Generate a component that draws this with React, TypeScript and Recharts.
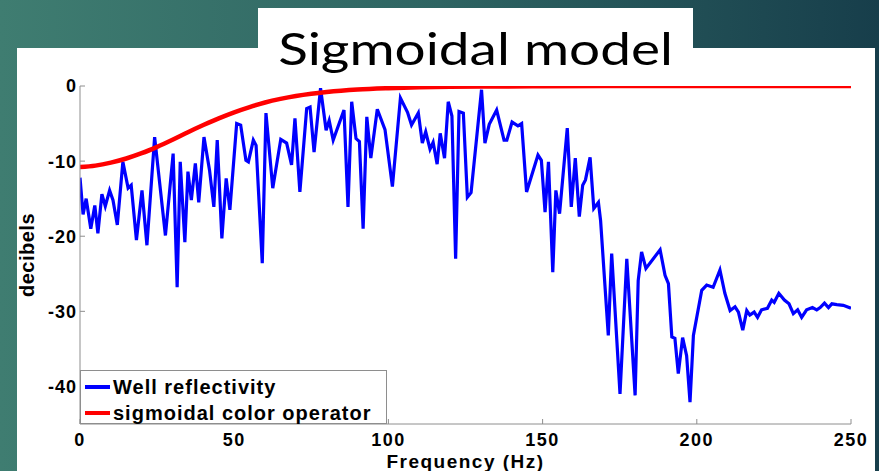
import React from "react";
import { LineChart, Line, XAxis, YAxis, Legend } from "recharts";

// well reflectivity spectrum (Hz, dB)
const wellFreq = [
  0, 1, 2, 3.5, 4.8, 5.8, 7.1, 8.2, 9.6, 10.7, 12.1, 13.9, 15.6, 16.6, 18.3, 20.1,
  21.7, 24.2, 27.7, 30.2, 31.5, 32.5, 34, 35, 36.1, 37.4, 38.5, 40.2, 42, 43.4, 44.5,
  46, 47.4, 48.6, 50.8, 52.1, 53.8, 54.6, 56.2, 57.1, 59.1, 60.3, 62.5, 65.1, 67,
  68.6, 69.7, 71.3, 73.5, 74.6, 75.9, 78, 79.8, 80.8, 82.1, 85.6, 86.9, 88.1, 89.5,
  90.6, 91.8, 93, 94.3, 96.4, 98.9, 101.3, 103.9, 106.2, 107.5, 109.7, 111, 112.1,
  113.5, 114.5, 115.8, 116.8, 118.2, 119.4, 120.6, 121.8, 122.9, 124.3, 125.6, 126.8,
  130.2, 131.3, 132.7, 135.1, 137.5, 138.4, 140.1, 142, 143.2, 144.8, 148.5, 149.6,
  150.8, 151.9, 153.3, 154.3, 155.5, 158, 159.3, 160.6, 161.9, 163, 163.9, 165.4,
  166.6, 168.1, 168.8, 171.3, 172.4, 175.1, 177.3, 180, 181, 182.1, 183.5, 188.1,
  189.7, 190.8, 191.9, 192.9, 194, 195.4, 196.7, 197.8, 198.9, 201.6, 203.2, 205.3,
  207.5, 209.1, 210.8, 212.4, 213.5, 214.9, 216.2, 217.2, 218.6, 219.7, 221, 222.9,
  224.3, 225.1, 226.6, 228.4, 229.9, 231.3, 232.7, 234, 235.6, 237.5, 238.9, 240,
  241.4, 242.7, 243.8, 245.4, 247.5, 250,
];
const wellDb = [
  -12.2, -17.1, -15, -19, -15.9, -19.6, -14.4, -16, -13.9, -15.2, -18.5, -10.1, -13.6,
  -13.2, -20.5, -13.9, -21.2, -6.8, -19.9, -9, -26.8, -10.1, -20.8, -11.4, -15.2, -10.3,
  -15.5, -6.8, -11.2, -16.1, -7.2, -20.3, -12.3, -16.5, -5, -5.2, -9.9, -10.1, -7.2,
  -7.9, -23.6, -3.6, -13.6, -7.1, -7.6, -10.5, -4.3, -14.1, -3, -2.8, -8.8, -0.3, -5.9,
  -4.6, -7.2, -3.2, -16.1, -2.1, -7, -7.4, -19, -4.1, -9.6, -3.1, -5.8, -13.4, -1.6,
  -3.5, -5.2, -3.6, -7.6, -6.1, -8.4, -7.5, -10.4, -6.3, -9.6, -2.1, -4, -23, -3.4,
  -3.6, -14.8, -14.2, -0.5, -7.6, -5.1, -3.2, -7.2, -7.2, -4.8, -5.3, -5, -14.1, -9.2,
  -9.9, -16.8, -10.1, -24.8, -13.9, -17, -5.6, -16.1, -9.6, -17.4, -13.2, -12.5, -9.5,
  -16.3, -15.5, -17.9, -33.2, -22.3, -41, -23, -41.2, -25.9, -22.1, -24.3, -21.8,
  -25.2, -26.3, -33.4, -33.6, -38.3, -33.5, -35.9, -42.1, -33.2, -27.2, -26.5, -26.8,
  -24.5, -27.6, -29.9, -29.4, -30.1, -32.5, -29.9, -30.5, -30.1, -30.8, -29.8, -29.6,
  -28.5, -28.8, -27.6, -28.5, -29, -30.3, -29.8, -30.8, -29.8, -29.5, -29.8, -29.5,
  -28.9, -29.5, -29, -29.1, -29.2, -29.6,
];

// sigmoidal color operator (Hz, dB)
const sigFreq = [0, 5, 10, 15, 20, 25, 30, 35, 40, 45, 50, 55, 60, 65, 70, 75, 80, 90, 100, 110, 120, 130, 150, 175, 200, 250];
const sigDb = [-10.8, -10.6, -10.2, -9.65, -8.95, -8.1, -7.15, -6.15, -5.2, -4.3, -3.5, -2.8, -2.2, -1.72, -1.33, -1.03, -0.8, -0.48, -0.3, -0.18, -0.11, -0.07, -0.03, -0.01, 0, 0];

const xTicks = [0, 50, 100, 150, 200, 250];
const yTicks = [0, -10, -20, -30, -40];

const wellData = wellFreq.map((f, i) => ({ f, db: wellDb[i] }));
const sigData = sigFreq.map((f, i) => ({ f, db: sigDb[i] }));

const AXIS = "#8e8e8e";
const FONT = '"Liberation Sans", Arial, sans-serif';

function XTick({ x, y, payload }: any) {
  return (
    <text x={x} y={y + 27} textAnchor="middle" fill="#000" fontFamily={FONT} fontSize={18} fontWeight={700} letterSpacing={1.5}>
      {payload.value}
    </text>
  );
}

function YTick({ x, y, payload }: any) {
  return (
    <text x={x - 8} y={y} dy="0.36em" textAnchor="end" fill="#000" fontFamily={FONT} fontSize={18} fontWeight={700} letterSpacing={1}>
      {payload.value}
    </text>
  );
}

function YLabel({ viewBox }: any) {
  const cx = 27;
  const cy = viewBox.y + viewBox.height / 2;
  return (
    <text x={cx} y={cy} dy="0.36em" transform={`rotate(-90 ${cx} ${cy})`} textAnchor="middle" fill="#000" fontFamily={FONT} fontSize={20} fontWeight={700} letterSpacing={0.5}>
      decibels
    </text>
  );
}

function XLabel({ viewBox }: any) {
  const cx = viewBox.x + viewBox.width / 2;
  return (
    <text x={cx} y={468} textAnchor="middle" fill="#000" fontFamily={FONT} fontSize={19} fontWeight={700} letterSpacing={1.5}>
      Frequency (Hz)
    </text>
  );
}

function LegendBox({ payload }: any) {
  return (
    <div
      style={{
        boxSizing: "border-box",
        width: 307,
        height: 54,
        border: `1px solid ${AXIS}`,
        background: "#fff",
        padding: "3px 0 0 4px",
      }}
    >
      {(payload || []).map((e: any) => (
        <div key={e.value} style={{ display: "flex", alignItems: "center", height: 26 }}>
          <span style={{ width: 25, height: 4, background: e.color, marginRight: 3 }} />
          <span style={{ fontFamily: FONT, fontSize: 20, fontWeight: 700, letterSpacing: 1, color: "#000", lineHeight: "26px" }}>
            {e.value}
          </span>
        </div>
      ))}
    </div>
  );
}

export default function App() {
  return (
    <div
      style={{
        position: "fixed",
        left: 0,
        top: 0,
        width: 879,
        height: 471,
        overflow: "hidden",
        background: "linear-gradient(to right, #3f7d71 0%, #2e6462 50%, #173e4b 100%)",
      }}
    >
      <div style={{ position: "absolute", left: 17, top: 48, width: 858, height: 423, background: "#fff" }} />
      <div style={{ position: "absolute", left: 258, top: 8, width: 435, height: 60, background: "#fff" }} />
      <div
        style={{
          position: "absolute",
          left: 258,
          top: 17,
          width: 435,
          textAlign: "center",
          fontFamily: "Lato, 'Open Sans', sans-serif",
          fontSize: 45,
          lineHeight: "62px",
          color: "#000",
          transform: "scaleX(1.22)",
          transformOrigin: "center",
          whiteSpace: "nowrap",
        }}
      >
        Sigmoidal model
      </div>
      <div style={{ position: "absolute", left: 0, top: 0 }}>
        <LineChart width={879} height={471} margin={{ top: 86, right: 28, bottom: 0, left: 20 }}>
          <XAxis
            dataKey="f"
            type="number"
            domain={[0, 250]}
            ticks={xTicks}
            height={47}
            stroke={AXIS}
            tickSize={-5}
            tickMargin={0}
            tick={<XTick />}
            label={<XLabel />}
            allowDataOverflow
          />
          <XAxis
            xAxisId="top"
            orientation="top"
            type="number"
            domain={[0, 250]}
            ticks={xTicks}
            height={0}
            stroke={AXIS}
            tickSize={-5}
            tick={false}
            allowDataOverflow
          />
          <YAxis
            type="number"
            domain={[-45, 0]}
            ticks={yTicks}
            width={60}
            stroke={AXIS}
            tickSize={-5}
            tickMargin={0}
            tick={<YTick />}
            label={<YLabel />}
            allowDataOverflow
          />
          <YAxis
            yAxisId="right"
            orientation="right"
            type="number"
            domain={[-45, 0]}
            ticks={yTicks}
            width={0}
            stroke={AXIS}
            tickSize={-5}
            tick={false}
            allowDataOverflow
          />
          <Legend
            layout="horizontal"
            align="center"
            verticalAlign="middle"
            content={<LegendBox />}
            wrapperStyle={{ left: 80, top: 370, width: 307, height: 54 }}
          />
          <Line
            data={wellData}
            dataKey="db"
            name="Well reflectivity"
            type="linear"
            stroke="#0000ff"
            strokeWidth={3.2}
            dot={false}
            isAnimationActive={false}
          />
          <Line
            data={sigData}
            dataKey="db"
            name="sigmoidal color operator"
            type="monotone"
            stroke="#ff0000"
            strokeWidth={4.5}
            dot={false}
            isAnimationActive={false}
          />
        </LineChart>
      </div>
    </div>
  );
}
